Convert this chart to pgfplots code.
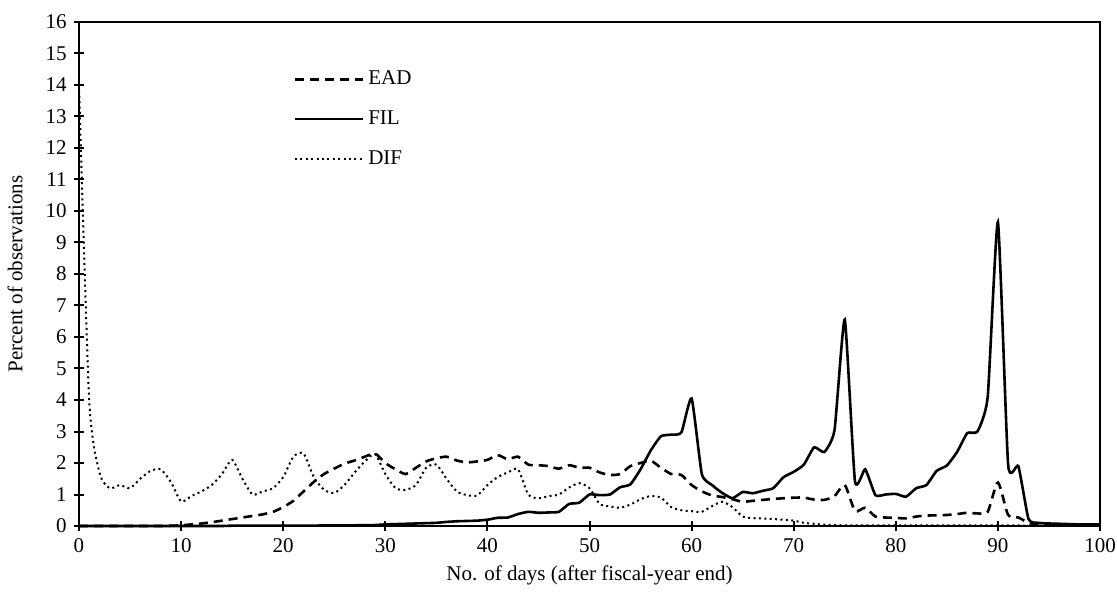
\documentclass[border=0pt]{standalone}
\usepackage{fontspec}
\setmainfont{Liberation Serif}
\usepackage{pgfplots}
\pgfplotsset{compat=1.18}
\usepackage{pgfplotstable}

\newcommand{\chartfont}{\fontsize{10.5}{12}\selectfont}

% daily shares (percent)
\pgfplotstableread{
day EAD FIL DIF
0 0.00 0.00 14.00
1 0.00 0.00 4.00
2 0.00 0.00 1.70
3 0.00 0.00 1.20
4 0.00 0.00 1.30
5 0.00 0.00 1.20
6 0.00 0.00 1.50
7 0.00 0.00 1.75
8 0.00 0.00 1.80
9 0.01 0.00 1.40
10 0.02 0.00 0.78
11 0.05 0.00 0.95
12 0.08 0.00 1.10
13 0.12 0.00 1.30
14 0.17 0.00 1.65
15 0.22 0.01 2.10
16 0.27 0.01 1.50
17 0.32 0.01 1.00
18 0.37 0.01 1.10
19 0.45 0.01 1.20
20 0.60 0.01 1.55
21 0.80 0.01 2.20
22 1.10 0.01 2.30
23 1.40 0.01 1.55
24 1.65 0.02 1.15
25 1.82 0.02 1.05
26 1.98 0.02 1.30
27 2.08 0.02 1.70
28 2.20 0.03 2.05
29 2.30 0.03 2.28
30 2.00 0.05 1.65
31 1.80 0.06 1.20
32 1.65 0.07 1.15
33 1.85 0.08 1.30
34 2.05 0.09 1.85
35 2.15 0.10 1.95
36 2.20 0.13 1.50
37 2.08 0.15 1.10
38 2.02 0.16 0.98
39 2.05 0.17 0.97
40 2.10 0.20 1.30
41 2.25 0.26 1.55
42 2.12 0.27 1.70
43 2.20 0.38 1.80
44 1.95 0.45 1.00
45 1.93 0.42 0.88
46 1.90 0.43 0.95
47 1.82 0.45 1.00
48 1.93 0.70 1.22
49 1.85 0.74 1.36
50 1.85 1.00 1.20
51 1.70 0.98 0.70
52 1.62 1.00 0.62
53 1.65 1.23 0.58
54 1.90 1.32 0.68
55 2.00 1.80 0.85
56 2.07 2.40 0.95
57 1.85 2.85 0.90
58 1.65 2.90 0.60
59 1.62 2.97 0.50
60 1.30 4.05 0.47
61 1.10 1.65 0.45
62 0.97 1.30 0.63
63 0.92 1.05 0.77
64 0.85 0.88 0.60
65 0.77 1.08 0.30
66 0.80 1.04 0.25
67 0.83 1.12 0.24
68 0.86 1.20 0.22
69 0.88 1.55 0.20
70 0.90 1.72 0.17
71 0.90 1.95 0.10
72 0.84 2.50 0.07
73 0.83 2.35 0.04
74 0.95 3.05 0.03
75 1.30 6.55 0.02
76 0.48 1.42 0.02
77 0.58 1.80 0.02
78 0.30 0.98 0.02
79 0.27 1.00 0.02
80 0.26 1.02 0.02
81 0.24 0.93 0.02
82 0.30 1.20 0.02
83 0.33 1.30 0.02
84 0.34 1.75 0.02
85 0.35 1.92 0.02
86 0.38 2.35 0.02
87 0.42 2.95 0.02
88 0.40 3.00 0.02
89 0.45 4.10 0.02
90 1.38 9.65 0.02
91 0.35 1.95 0.02
92 0.27 1.90 0.02
93 0.10 0.22 0.01
94 0.04 0.10 0.01
95 0.03 0.08 0.01
96 0.03 0.07 0.01
97 0.02 0.06 0.01
98 0.02 0.05 0.01
99 0.02 0.05 0.01
100 0.02 0.05 0.01
}\daily

\begin{document}
\chartfont
\begin{tikzpicture}[font=\chartfont]
\begin{axis}[
    scale only axis,
    width=510.5pt, height=252pt,
    xmin=0, xmax=100, ymin=0, ymax=16,
    xtick={0,10,...,100}, ytick={0,1,...,16},
    tick pos=left, tick align=center,
    major tick length=5pt,
    axis line style={line width=1pt},
    every tick/.style={black, line width=1pt},
    every tick label/.append style={font=\chartfont},
    xticklabel style={font=\chartfont},
    yticklabel style={font=\chartfont},
    every axis x label/.style={at={(rel axis cs:0.5,0)}, yshift=-24.5pt, anchor=center, font=\chartfont},
    every axis y label/.style={at={(rel axis cs:0,0.5)}, xshift=-32pt, rotate=90, anchor=center, font=\chartfont},
    xlabel={No. of days (after fiscal-year end)},
    ylabel={Percent of observations},
    legend style={draw=none, fill=none, at={(rel axis cs:0.204,0.92)}, anchor=north west,
        font=\chartfont, row sep=7.5pt},
    legend cell align=left,
    legend image code/.code={\draw[#1] (0pt,0pt) -- (34pt,0pt);},
    clip=false,
    /pgf/number format/assume math mode=true,
]
\coordinate (sw) at (rel axis cs:0,0);
\coordinate (ne) at (rel axis cs:1,1);

\addplot[black, line width=1.3pt, dash pattern=on 4.5pt off 3pt, smooth, tension=0.4] table[x=day, y=EAD] {\daily};
\addlegendentry{EAD}
\addplot[black, line width=1.3pt, smooth, tension=0.3] table[x=day, y=FIL] {\daily};
\addlegendentry{FIL}
\addplot[black, line width=1pt, dash pattern=on 1pt off 1.7pt, smooth, tension=0.4] table[x=day, y=DIF] {\daily};
\addlegendentry{DIF}
\end{axis}
\pgfresetboundingbox
\path ([shift={(-39.5pt,-34pt)}]sw) rectangle ([shift={(8.5pt,11pt)}]ne);
\end{tikzpicture}
\end{document}
